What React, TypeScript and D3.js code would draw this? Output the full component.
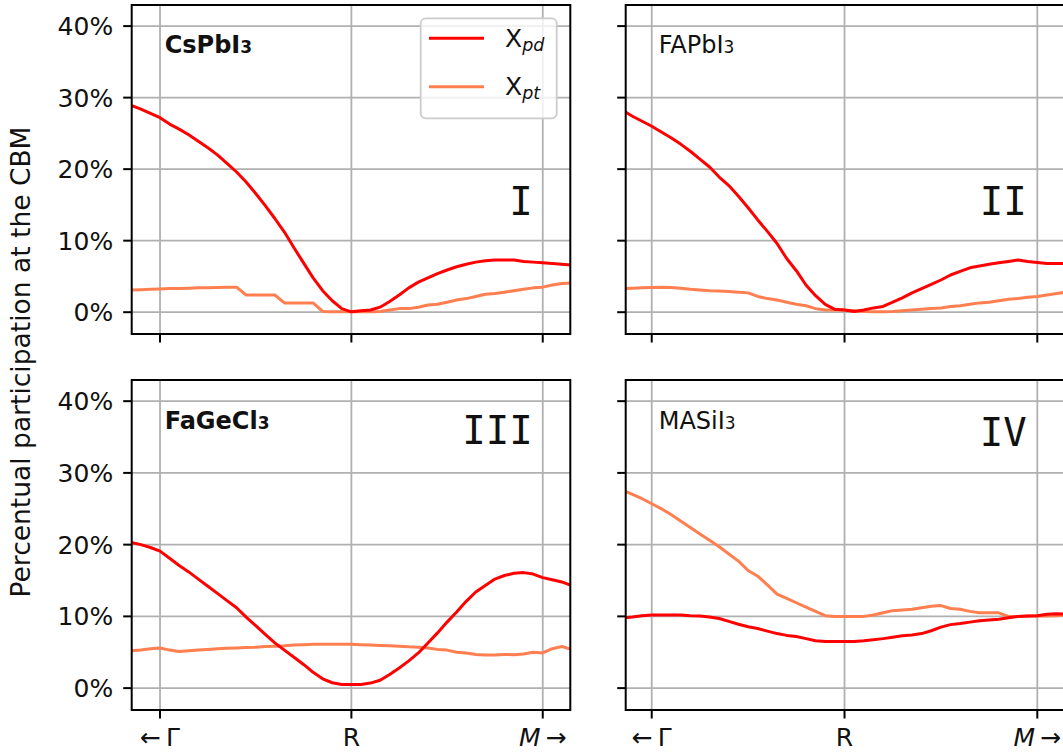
import React from "react";
import * as d3 from "d3";

// k-path coordinate (Γ = 0, R = 1, M = 2)
const K = [
  -0.15, -0.1, -0.05, 0, 0.05, 0.1, 0.15, 0.2, 0.25, 0.3, 0.35, 0.4, 0.45, 0.5, 0.55, 0.6,
  0.65, 0.7, 0.75, 0.8, 0.85, 0.9, 0.95, 1.0, 1.05, 1.1, 1.15, 1.2, 1.25, 1.3, 1.35, 1.4,
  1.45, 1.5, 1.55, 1.6, 1.65, 1.7, 1.75, 1.8, 1.85, 1.9, 1.95, 2.0, 2.05, 2.1, 2.15,
];

// I: CsPbI3
const CS_PD = [
  28.9, 28.4, 27.8, 27.2, 26.3, 25.6, 24.8, 23.9, 23.0, 22.0, 20.8, 19.6, 18.2, 16.6, 14.9, 13.1,
  11.2, 9.0, 6.9, 4.8, 3.0, 1.6, 0.5, 0.05, 0.2, 0.3, 0.7, 1.5, 2.4, 3.4, 4.2, 4.8,
  5.4, 5.9, 6.35, 6.7, 7.0, 7.2, 7.3, 7.3, 7.3, 7.1, 7.0, 6.9, 6.8, 6.7, 6.6,
];
const CS_PT = [
  3.1, 3.15, 3.2, 3.25, 3.3, 3.3, 3.35, 3.4, 3.4, 3.45, 3.5, 3.5, 2.4, 2.4, 2.4, 2.4,
  1.3, 1.3, 1.3, 1.3, 0.1, 0.05, 0.05, 0.05, 0.05, 0.05, 0.1, 0.3, 0.5, 0.5, 0.7, 1.0,
  1.1, 1.4, 1.7, 1.9, 2.2, 2.5, 2.6, 2.8, 3.0, 3.2, 3.4, 3.5, 3.8, 4.0, 4.1,
];

// II: FAPbI3
const FA_PD = [
  28.2, 27.4, 26.7, 26.0, 25.2, 24.4, 23.5, 22.5, 21.4, 20.3, 18.9, 17.7, 16.2, 14.6, 12.9, 11.3,
  9.6, 7.5, 5.8, 3.8, 2.3, 1.1, 0.4, 0.3, 0.1, 0.3, 0.6, 0.8, 1.4, 2.0, 2.7, 3.3,
  3.9, 4.5, 5.2, 5.7, 6.2, 6.45, 6.7, 6.9, 7.1, 7.3, 7.1, 6.95, 6.8, 6.8, 6.8,
];
const FA_PT = [
  3.3, 3.35, 3.4, 3.45, 3.5, 3.45, 3.35, 3.2, 3.1, 3.0, 2.95, 2.9, 2.8, 2.7, 2.2, 1.9,
  1.7, 1.4, 1.1, 0.9, 0.5, 0.3, 0.3, 0.3, 0.2, 0.1, 0.05, 0.05, 0.1, 0.2, 0.3, 0.4,
  0.5, 0.6, 0.8, 0.9, 1.1, 1.3, 1.4, 1.6, 1.8, 1.9, 2.1, 2.2, 2.4, 2.6, 2.8,
];

// III: FaGeCl3
const FG_PD = [
  20.3, 20.0, 19.6, 19.1, 18.1, 17.1, 16.2, 15.2, 14.2, 13.2, 12.2, 11.2, 9.9, 8.7, 7.5, 6.3,
  5.3, 4.3, 3.3, 2.2, 1.3, 0.75, 0.5, 0.5, 0.5, 0.7, 1.1, 1.9, 2.8, 3.8, 4.9, 6.3,
  7.7, 9.2, 10.6, 12.1, 13.4, 14.3, 15.2, 15.7, 16.0, 16.1, 15.9, 15.4, 15.1, 14.8, 14.3,
];
const FG_PT = [
  5.2, 5.3, 5.5, 5.6, 5.3, 5.1, 5.2, 5.3, 5.4, 5.5, 5.55, 5.6, 5.65, 5.7, 5.8, 5.85,
  5.9, 6.0, 6.05, 6.1, 6.1, 6.1, 6.1, 6.1, 6.05, 6.0, 5.95, 5.9, 5.85, 5.75, 5.7, 5.6,
  5.4, 5.3, 5.0, 4.9, 4.7, 4.6, 4.6, 4.7, 4.65, 4.75, 5.0, 4.9, 5.5, 5.8, 5.4,
];

// IV: MASiI3
const MA_PD = [
  9.8, 9.9, 10.1, 10.2, 10.2, 10.2, 10.2, 10.1, 10.05, 9.9, 9.7, 9.3, 8.9, 8.55, 8.3, 7.95,
  7.6, 7.35, 7.2, 6.9, 6.6, 6.5, 6.5, 6.5, 6.5, 6.6, 6.75, 6.9, 7.1, 7.3, 7.4, 7.6,
  8.0, 8.5, 8.85, 9.0, 9.2, 9.4, 9.5, 9.6, 9.8, 10.0, 10.05, 10.1, 10.3, 10.35, 10.3,
];
const MA_PT = [
  27.6, 27.0, 26.4, 25.7, 25.0, 24.2, 23.3, 22.4, 21.5, 20.6, 19.7, 18.7, 17.7, 16.4, 15.6, 14.4,
  13.1, 12.5, 11.9, 11.3, 10.7, 10.1, 10.0, 10.0, 10.0, 10.0, 10.2, 10.5, 10.8, 10.9, 11.0, 11.2,
  11.4, 11.5, 11.1, 11.0, 10.7, 10.5, 10.5, 10.5, 10.0, 10.0, 10.05, 10.05, 10.05, 10.1, 10.2,
];

const Y_TICKS = [0, 10, 20, 30, 40];
const X_TICKS = [0, 1, 2];
const Y_LABEL = "Percentual participation at the CBM";

const PANELS = [
  { name: "CsPbI", sub: "3", bold: true, numeral: "I", pd: CS_PD, pt: CS_PT, col: 0, row: 0, numY: 0.638 },
  { name: "FAPbI", sub: "3", bold: false, numeral: "II", pd: FA_PD, pt: FA_PT, col: 1, row: 0, numY: 0.638 },
  { name: "FaGeCl", sub: "3", bold: true, numeral: "III", pd: FG_PD, pt: FG_PT, col: 0, row: 1, numY: 0.195 },
  { name: "MASiI", sub: "3", bold: false, numeral: "IV", pd: MA_PD, pt: MA_PT, col: 1, row: 1, numY: 0.2 },
];

const RED = "#ff0000";
const CORAL = "#ff7f50";
const FONT = "'DejaVu Sans', sans-serif";
const FS = 25;

const COLS = [
  { x0: 131.7, x1: 570.3, d0: -0.148, d1: 2.144 },
  { x0: 625.7, x1: 1064.3, d0: -0.135, d1: 2.14 },
];
const ROWS = [
  { y0: 5, y1: 334 },
  { y0: 380, y1: 710 },
];
const Y_DOMAIN = [-3.05, 42.95];

export default function App() {
  const W = 1063;
  const H = 753;
  const tickLen = 8.5;
  const pad = 10;

  return (
    <svg width={W} height={H} style={{ position: "absolute", left: 0, top: 0, background: "#fff" }}>
      <rect x={0} y={0} width={W} height={H} fill="#fff" />
      {PANELS.map((p, pi) => {
        const c = COLS[p.col];
        const r = ROWS[p.row];
        const x = d3.scaleLinear().domain([c.d0, c.d1]).range([c.x0, c.x1]);
        const y = d3.scaleLinear().domain(Y_DOMAIN).range([r.y1, r.y0]);
        const line = d3
          .line<number>()
          .x((_, i) => x(K[i]))
          .y((v) => y(v));
        const clipId = `clip-${pi}`;
        const w = c.x1 - c.x0;
        const h = r.y1 - r.y0;
        return (
          <g key={pi}>
            <defs>
              <clipPath id={clipId}>
                <rect x={c.x0} y={r.y0} width={w} height={h} />
              </clipPath>
            </defs>
            {Y_TICKS.map((t) => (
              <line key={"gy" + t} x1={c.x0} x2={c.x1} y1={y(t)} y2={y(t)} stroke="#b0b0b0" strokeWidth={1.8} clipPath={`url(#${clipId})`} />
            ))}
            {X_TICKS.map((t) => (
              <line key={"gx" + t} x1={x(t)} x2={x(t)} y1={r.y0} y2={r.y1} stroke="#b0b0b0" strokeWidth={1.8} clipPath={`url(#${clipId})`} />
            ))}
            <g clipPath={`url(#${clipId})`}>
              <path d={line(p.pt) || ""} fill="none" stroke={CORAL} strokeWidth={3} strokeLinejoin="round" />
              <path d={line(p.pd) || ""} fill="none" stroke={RED} strokeWidth={3} strokeLinejoin="round" />
            </g>
            <rect x={c.x0} y={r.y0} width={w} height={h} fill="none" stroke="#000" strokeWidth={2} />
            {Y_TICKS.map((t) => (
              <g key={"ty" + t}>
                <line x1={c.x0 - tickLen} x2={c.x0} y1={y(t)} y2={y(t)} stroke="#000" strokeWidth={2} />
                {p.col === 0 && (
                  <text x={c.x0 - tickLen - pad} y={y(t)} dy="0.36em" textAnchor="end" fontFamily={FONT} fontSize={FS} fill="#111">
                    {`${t}%`}
                  </text>
                )}
              </g>
            ))}
            {X_TICKS.map((t) => (
              <g key={"tx" + t}>
                <line x1={x(t)} x2={x(t)} y1={r.y1} y2={r.y1 + tickLen} stroke="#000" strokeWidth={2} />
                {p.row === 1 && (
                  <text x={x(t)} y={745.5} textAnchor="middle" fontFamily={FONT} fontSize={FS} fill="#111">
                    {t === 0 && <tspan>{"←\u2009Γ"}</tspan>}
                    {t === 1 && <tspan>R</tspan>}
                    {t === 2 && (
                      <>
                        <tspan fontStyle="italic">M</tspan>
                        <tspan>{"\u2009→"}</tspan>
                      </>
                    )}
                  </text>
                )}
              </g>
            ))}
            <text
              x={c.x0 + 33}
              y={p.row === 0 ? r.y0 + 48 : r.y0 + 49}
              fontFamily={FONT}
              fontSize={FS - 1}
              fontWeight={p.bold ? "bold" : "normal"}
              fill="#111"
            >
              {p.name}
              <tspan fontSize={17}>{p.sub}</tspan>
            </text>
            <text
              x={c.x0 + 0.905 * w + 4}
              y={r.y0 + p.numY * h}
              textAnchor="end"
              fontFamily="'DejaVu Sans Mono', monospace"
              fontSize={39}
              fill="#111"
            >
              {p.numeral}
            </text>
          </g>
        );
      })}
      <g>
        <rect x={420.7} y={18.3} width={136} height={100} rx={5} fill="#fff" fillOpacity={0.8} stroke="#cccccc" strokeWidth={1.8} />
        {[
          { c: RED, s: "pd" },
          { c: CORAL, s: "pt" },
        ].map((e, i) => (
          <g key={e.s}>
            <line x1={429} x2={484} y1={38.3 + i * 48.4} y2={38.3 + i * 48.4} stroke={e.c} strokeWidth={3} />
            <text x={505} y={46.5 + i * 48.4} fontFamily={FONT} fontSize={FS} fill="#111">
              X
              <tspan fontStyle="italic" fontSize={17.5} dy={4}>
                {e.s}
              </tspan>
            </text>
          </g>
        ))}
      </g>
      <text
        transform="translate(30,362) rotate(-90)"
        textAnchor="middle"
        fontFamily={FONT}
        fontSize={26.5}
        fill="#111"
      >
        {Y_LABEL}
      </text>
    </svg>
  );
}
